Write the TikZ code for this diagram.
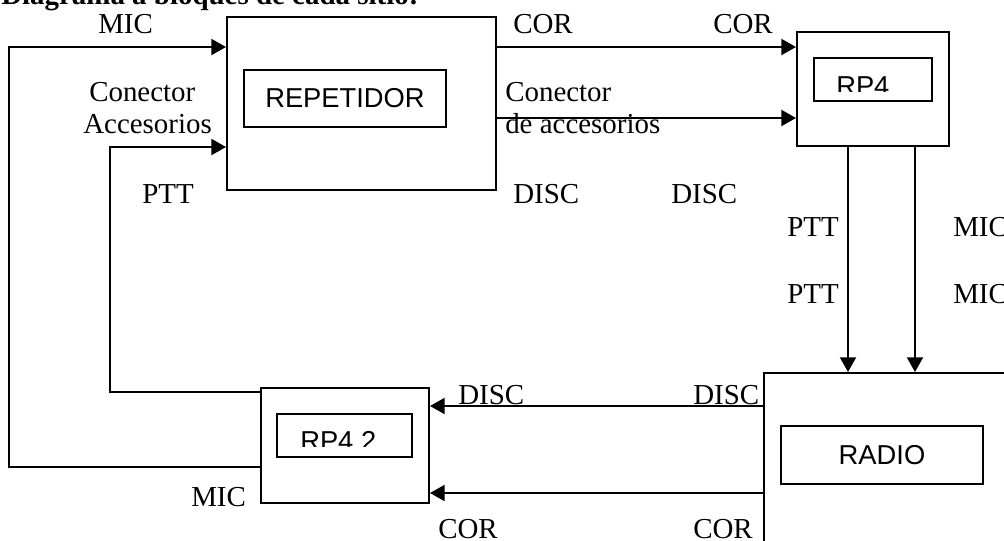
\documentclass[tikz,border=0pt]{standalone}
\usepackage{fontspec}
\setmainfont{Liberation Serif}
\newfontfamily\arial{Liberation Sans}
\usetikzlibrary{arrows.meta}

\begin{document}
\begin{tikzpicture}[x=0.75pt, y=-0.75pt,
    every node/.style={font=\fontsize{21.7}{26}\selectfont, inner sep=0pt},
    caja/.style={draw, line width=1.5pt, font=\arial\fontsize{20.5}{24}\selectfont},
    sig/.style={line width=1.5pt, -{Triangle[length=11pt,width=12pt]}},
    lbl/.style={anchor=base west}]
  \useasboundingbox (0,0) rectangle (1004,540);

  % titulo (cortado arriba)
  \node[lbl, font=\bfseries\fontsize{21.7}{26}\selectfont] (titulo) at (1,4) {Diagrama a bloques de cada sitio:};

  % bloques
  \node[caja, minimum width=201.75pt, minimum height=129.75pt] (rep) at (361.5,103.5) {};
  \node[caja, minimum width=151.5pt, minimum height=42.75pt] (repin) at (345,98.5) {REPETIDOR};
  \node[caja, minimum width=114pt, minimum height=85.5pt] (rp4) at (873,89) {};
  \node[caja, minimum width=88.5pt, minimum height=32.25pt] (rp4in) at (873,79.5) {};
  \node[caja, minimum width=126pt, minimum height=86.25pt] (rpb) at (345,445.5) {};
  \node[caja, minimum width=101.25pt, minimum height=32.25pt] (rpbin) at (344.5,435.5) {};
  \node[caja, minimum width=189pt, minimum height=130.5pt] (radio) at (890,460) {};
  \node[caja, minimum width=151.5pt, minimum height=43.5pt] (radioin) at (882,455) {RADIO};

  % textos recortados de las cajas RP4
  \begin{scope}
    \clip (rp4in.north west) rectangle (932,91);
    \node[anchor=base west, font=\arial\fontsize{20.5}{24}\selectfont] (rp4txt) at (836,95) {RP4};
  \end{scope}
  \begin{scope}
    \clip (rpbin.north west) rectangle (412,446);
    \node[anchor=base west, font=\arial\fontsize{20.5}{24}\selectfont] (rpbtxt) at (300,450) {RP4.2};
  \end{scope}

  % puntos de paso
  \coordinate (c1) at (9,47);
  \coordinate (c2) at (9,467);
  \coordinate (c3) at (110,147);
  \coordinate (c4) at (110,392);
  \coordinate (c5) at (0,118);
  \coordinate (c6) at (848,0);
  \coordinate (c7) at (915,0);
  \coordinate (c8) at (0,406);
  \coordinate (c9) at (0,493);

  % conexiones
  \draw[sig] (rpb.west |- c2) -- (c2) -- (c1) -- (rep.west |- c1);
  \draw[sig] (rpb.west |- c4) -- (c4) -- (c3) -- (rep.west |- c3);
  \draw[sig] (rep.east |- c1) -- (rp4.west |- c1);
  \draw[sig] (rep.east |- c5) -- (rp4.west |- c5);
  \draw[sig] (rp4.south -| c6) -- (radio.north -| c6);
  \draw[sig] (rp4.south -| c7) -- (radio.north -| c7);
  \draw[sig] (radio.west |- c8) -- (rpb.east |- c8);
  \draw[sig] (radio.west |- c9) -- (rpb.east |- c9);

  % etiquetas
  \node[lbl] (l1) at (98,33) {MIC};
  \node[lbl] (l2) at (89,101) {Conector};
  \node[lbl] (l3) at (83,133) {Accesorios};
  \node[lbl] (l4) at (142,203) {PTT};
  \node[lbl] (l5) at (513,33) {COR};
  \node[lbl] (l6) at (713,33) {COR};
  \node[lbl] (l7) at (505,101) {Conector};
  \node[lbl] (l8) at (505,133) {de accesorios};
  \node[lbl] (l9) at (513,203) {DISC};
  \node[lbl] (l10) at (671,203) {DISC};
  \node[anchor=base east] (l11) at (839,236) {PTT};
  \node[anchor=base east] (l12) at (839,303) {PTT};
  \node[lbl] (l13) at (953,236) {MIC};
  \node[lbl] (l14) at (953,303) {MIC};
  \node[lbl] (l15) at (458,404) {DISC};
  \node[lbl] (l16) at (693,404) {DISC};
  \node[lbl] (l17) at (191,506) {MIC};
  \node[lbl] (l18) at (438,538) {COR};
  \node[lbl] (l19) at (693,538) {COR};
\end{tikzpicture}
\end{document}
